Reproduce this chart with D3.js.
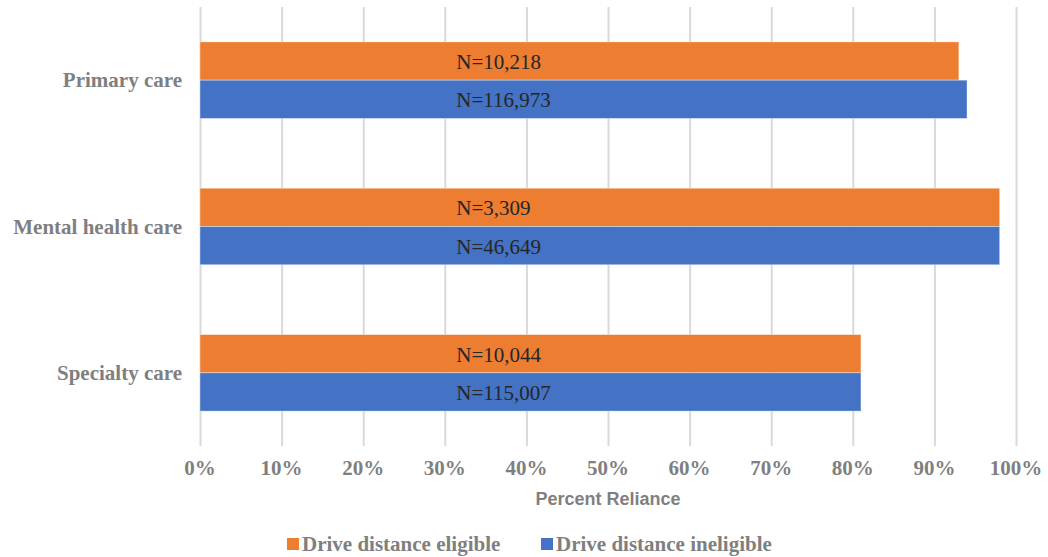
<!DOCTYPE html>
<html>
<head>
<meta charset="utf-8">
<script src="https://cdn.jsdelivr.net/npm/d3@7"></script>
<style>
  body { margin: 0; background: #fff; }
  svg text { font-family: 'Liberation Serif', 'Times New Roman', serif; }
  .tick-label, .cat-label, .legend-label { fill: #7f7f7f; font-weight: bold; font-size: 21px; }
  .bar-label { fill: #262626; font-size: 21px; }
  .axis-title { font-family: 'Liberation Sans', Arial, sans-serif; fill: #7f7f7f; font-weight: bold; font-size: 18px; }
  .grid line { stroke: #d9d9d9; stroke-width: 2; }
</style>
</head>
<body>
<svg width="1048" height="557"></svg>
<script>
const categories = ['Primary care', 'Mental health care', 'Specialty care']
const seriesNames = ['Drive distance eligible', 'Drive distance ineligible']
const eligiblePct = [93, 98, 81]
const ineligiblePct = [94, 98, 81]
const eligibleN = ['N=10,218', 'N=3,309', 'N=10,044']
const ineligibleN = ['N=116,973', 'N=46,649', 'N=115,007']
const tickValues = [0, 10, 20, 30, 40, 50, 60, 70, 80, 90, 100]
const colors = ['#ED7D31', '#4472C4']

const svg = d3.select('svg')
const width = +svg.attr('width')
const height = +svg.attr('height')

const margin = { top: 7, right: 32, bottom: 111, left: 200 }
const innerWidth = width - margin.left - margin.right
const innerHeight = height - margin.top - margin.bottom

const rows = categories.map((c, i) => ({
  name: c,
  values: [
    { series: seriesNames[0], pct: eligiblePct[i], label: eligibleN[i] },
    { series: seriesNames[1], pct: ineligiblePct[i], label: ineligibleN[i] }
  ]
}))

const xScale = d3.scaleLinear().domain([0, 100]).range([0, innerWidth])

const yScale = d3.scaleBand()
  .domain(categories)
  .range([0, innerHeight])
  .paddingInner(0.477)
  .paddingOuter(0.2385)

const ySub = d3.scaleBand()
  .domain(seriesNames)
  .range([0, yScale.bandwidth()])

const colorScale = d3.scaleOrdinal().domain(seriesNames).range(colors)

const g = svg.append('g')
  .attr('transform', `translate(${margin.left}, ${margin.top})`)

// vertical gridlines
const xAxis = d3.axisBottom(xScale)
  .tickValues(tickValues)
  .tickSize(innerHeight)
  .tickFormat('')
const gridG = g.append('g').attr('class', 'grid').call(xAxis)
gridG.selectAll('.domain, .tick text').remove()

// tick labels
g.selectAll('.tick-label')
  .data(tickValues)
  .enter()
  .append('text')
  .attr('class', 'tick-label')
  .attr('x', d => xScale(d))
  .attr('y', innerHeight + 22)
  .attr('text-anchor', 'middle')
  .attr('dominant-baseline', 'central')
  .text(d => d + '%')

g.append('text')
  .attr('class', 'axis-title')
  .attr('x', innerWidth / 2)
  .attr('y', innerHeight + 53)
  .attr('text-anchor', 'middle')
  .attr('dominant-baseline', 'central')
  .text('Percent Reliance')

// category labels
g.selectAll('.cat-label')
  .data(categories)
  .enter()
  .append('text')
  .attr('class', 'cat-label')
  .attr('x', -18)
  .attr('y', d => yScale(d) + yScale.bandwidth() / 2)
  .attr('text-anchor', 'end')
  .attr('dominant-baseline', 'central')
  .text(d => d)

const group = g.selectAll('.cat')
  .data(rows)
  .enter()
  .append('g')
  .attr('class', 'cat')
  .attr('transform', d => `translate(0, ${yScale(d.name)})`)

group.selectAll('rect')
  .data(d => d.values)
  .enter()
  .append('rect')
  .attr('x', xScale(0))
  .attr('y', d => ySub(d.series))
  .attr('width', d => xScale(d.pct) - xScale(0))
  .attr('height', ySub.bandwidth())
  .attr('fill', d => colorScale(d.series))
  .attr('stroke', 'rgba(255,255,255,0.5)')
  .attr('stroke-width', 0.75)

group.selectAll('.bar-label')
  .data(d => d.values)
  .enter()
  .append('text')
  .attr('class', 'bar-label')
  .attr('x', xScale(31.4))
  .attr('y', d => ySub(d.series) + ySub.bandwidth() / 2 + 1)
  .attr('dominant-baseline', 'central')
  .text(d => d.label)

// legend
const legendX = [287, 541]
const legend = svg.selectAll('.legend')
  .data(seriesNames)
  .enter()
  .append('g')
  .attr('class', 'legend')
  .attr('transform', (d, i) => `translate(${legendX[i]}, 544)`)

legend.append('rect')
  .attr('x', 0)
  .attr('y', -6)
  .attr('width', 12)
  .attr('height', 12)
  .attr('fill', d => colorScale(d))

legend.append('text')
  .attr('class', 'legend-label')
  .attr('x', 15)
  .attr('y', 0)
  .attr('dominant-baseline', 'central')
  .text(d => d)
</script>
</body>
</html>
